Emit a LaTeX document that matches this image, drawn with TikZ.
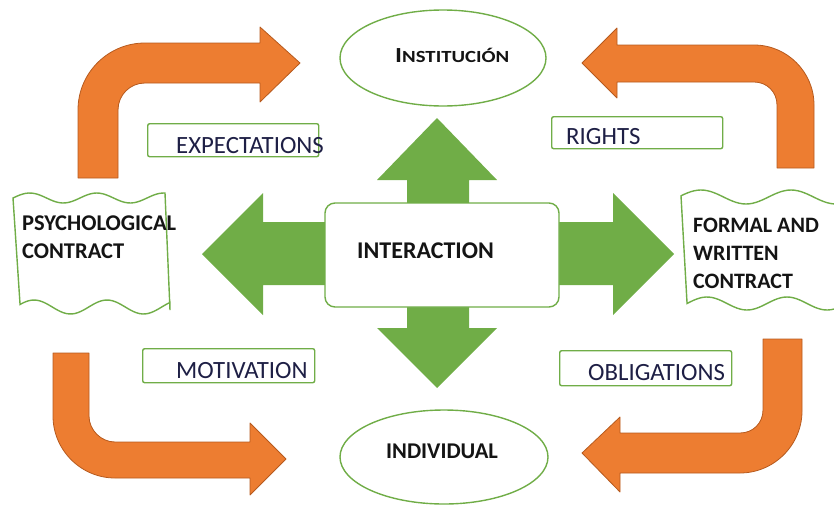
\documentclass[tikz,border=0pt]{standalone}
\usepackage{fontspec}
\usepackage{graphicx}
\setmainfont{Carlito}
\usetikzlibrary{shapes.geometric}
\definecolor{grn}{HTML}{70AD47}
\definecolor{org}{HTML}{ED7D31}
\definecolor{orgdk}{HTML}{B65A1E}
\definecolor{txt}{HTML}{141414}
\definecolor{lbl}{HTML}{1E1F45}
\begin{document}
\begin{tikzpicture}[x=1pt,y=-1pt,
  orangearrow/.style={fill=org, draw=orgdk, line width=0.8pt, line join=round},
  greenarrow/.style={fill=grn, draw=none},
  outl/.style={draw=grn, line width=1.4pt},
  lblbox/.style={draw=grn, line width=1.4pt, fill=white, rounded corners=2pt, inner sep=0, anchor=north west},
  boldtxt/.style={font=\fontsize{22.5}{27}\selectfont\bfseries, text=txt, inner sep=0, anchor=base west},
  lbltxt/.style={font=\fontsize{24.8}{29}\selectfont, text=lbl, inner sep=0, anchor=base west}]
\useasboundingbox (0,0) rectangle (834,506);
\clip (0,0) rectangle (834,506);
% orange bent arrows
\path[orangearrow] (78,178) -- (78,110) .. controls (78,73) and (108,43) .. (145,43) -- (260,43) -- (260,27) -- (300,63) -- (260,102) -- (260,83) -- (145,83) .. controls (130,83) and (118,95) .. (118,110) -- (118,178) -- cycle;
\path[orangearrow] (814,168) -- (814,105) .. controls (814,72) and (787,45) .. (754,45) -- (617,45) -- (617,28) -- (582,63) -- (617,98) -- (617,82) -- (754,82) .. controls (767,82) and (777,92) .. (777,105) -- (777,168) -- cycle;
\path[orangearrow] (53,353) -- (53,416) .. controls (53,450) and (81,478) .. (115,478) -- (250,478) -- (250,495) -- (286,459) -- (250,423) -- (250,442) -- (115,442) .. controls (101,442) and (89,430) .. (89,416) -- (89,353) -- cycle;
\path[orangearrow] (802,339) -- (802,411) .. controls (802,445) and (774,473) .. (740,473) -- (620,473) -- (620,492) -- (582,453) -- (620,417) -- (620,433) -- (740,433) .. controls (753,433) and (763,423) .. (763,410) -- (763,339) -- cycle;
% green quad arrow
\path[greenarrow] (407,180) -- (377,180) -- (437,118) -- (497,180) -- (469,180) -- (469,222) -- (613,222) -- (613,193) -- (674,254) -- (613,315) -- (613,285) -- (469,285) -- (469,328) -- (497,328) -- (437,388) -- (377,328) -- (407,328) -- (407,285) -- (263,285) -- (263,315) -- (202,254) -- (263,193) -- (263,222) -- (407,222) -- cycle;
% central box
\node[draw=grn, line width=1.4pt, fill=white, rounded corners=10pt, minimum width=234pt, minimum height=104pt, inner sep=0] (inter) at (442,255) {};
% ellipses
\node[outl, fill=white, ellipse, minimum width=206pt, minimum height=96pt, inner sep=0] (inst) at (443,58) {};
\node[outl, fill=white, ellipse, minimum width=208pt, minimum height=94pt, inner sep=0] (indiv) at (444,457) {};
% document shapes
\path[outl, fill=white] (13,198) -- plot[domain=13:165, samples=50, smooth] (\x, {198 - 5*sin((\x-13)*5.373)}) -- (170,310) -- plot[domain=0:1, samples=50, smooth] ({170-150*\x}, {307 - 7*cos((63-150*\x)*4.932)}) -- cycle;
\path[outl, fill=white] (681,196) -- plot[domain=681:840, samples=50, smooth] (\x, {197 - 7*cos((\x-701)*4)}) -- (840,300) -- plot[domain=0:1, samples=50, smooth] ({840-153*\x}, {303.5 - 6.5*cos((133-153*\x)*4.5)}) -- cycle;
% label boxes
\node[lblbox, minimum width=171pt, minimum height=33pt] (expbox) at (147,123) {};
\node[lblbox, minimum width=171pt, minimum height=32pt] (rightbox) at (551,116) {};
\node[lblbox, minimum width=172pt, minimum height=34pt] (motbox) at (142,348) {};
\node[lblbox, minimum width=172pt, minimum height=35pt] (oblbox) at (559,350) {};
% texts
\node[boldtxt] (tinst) at (395,62) {\scalebox{1.22}[1]{{\fontsize{21.5}{25}\selectfont I}{\fontsize{17}{20}\selectfont NSTITUCIÓN}}};
\node[boldtxt, font=\fontsize{24}{28}\selectfont\bfseries] (tinter) at (357,258) {INTERACTION};
\node[boldtxt] (tindiv) at (386,458) {INDIVIDUAL};
\node[boldtxt] (tpsy1) at (22,230) {PSYCHOLOGICAL};
\node[boldtxt] (tpsy2) at (22,258) {CONTRACT};
\node[boldtxt, font=\fontsize{22}{26}\selectfont\bfseries] (tfor1) at (693,232) {FORMAL AND};
\node[boldtxt, font=\fontsize{22}{26}\selectfont\bfseries] (tfor2) at (693,260) {WRITTEN};
\node[boldtxt, font=\fontsize{22}{26}\selectfont\bfseries] (tfor3) at (693,288) {CONTRACT};
\node[lbltxt] (texp) at (176,153) {EXPECTATIONS};
\node[lbltxt] (trig) at (566,144) {RIGHTS};
\node[lbltxt] (tmot) at (176,378) {MOTIVATION};
\node[lbltxt] (tobl) at (588,380) {OBLIGATIONS};
\end{tikzpicture}
\end{document}
